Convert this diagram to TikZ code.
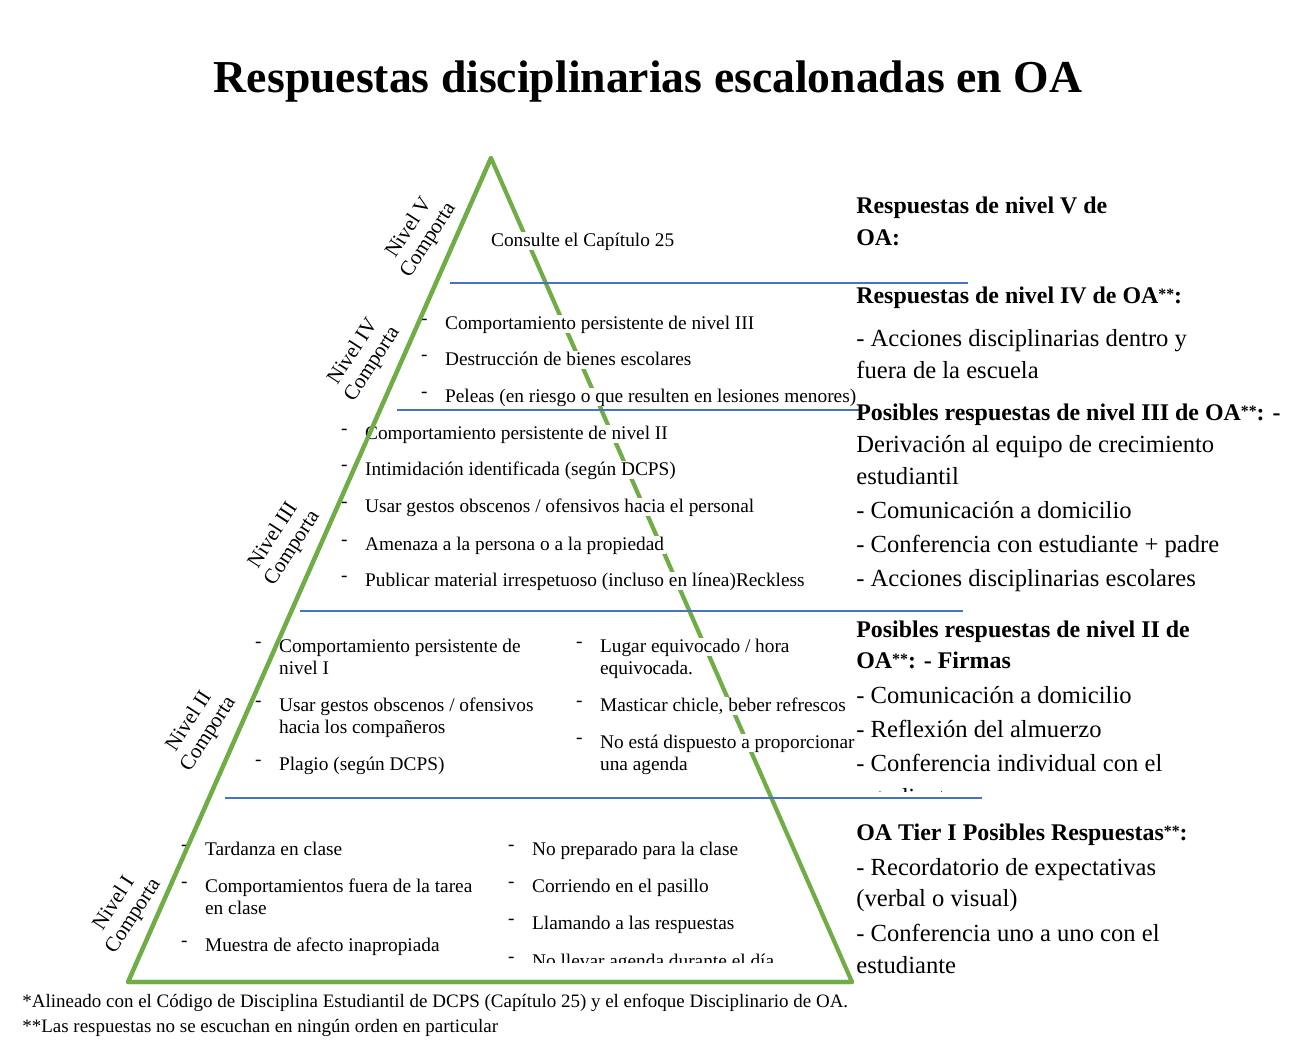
\documentclass[tikz,border=0pt]{standalone}
\usepackage{fontspec}
\setmainfont{Liberation Serif}
\definecolor{pyrgreen}{RGB}{112,173,71}
\definecolor{lvlblue}{RGB}{68,114,196}

\tikzset{
  itm/.style={anchor=west,inner sep=1pt,fill=white,text height=1.5ex,text depth=.25ex,
    font=\fontsize{11}{13}\selectfont},
  lvl/.style={align=center,rotate=57,font=\fontsize{12}{13}\selectfont},
  rtxt/.style={anchor=west,inner sep=0pt,text height=1.5ex,text depth=.25ex,
    font=\fontsize{14}{16}\selectfont},
  rhead/.style={rtxt,font=\fontsize{13.6}{16}\selectfont\bfseries},
  note/.style={anchor=west,inner sep=0pt,font=\fontsize{10.8}{12}\selectfont},
  sep/.style={lvlblue,line width=0.8pt},
  edge/.style={pyrgreen,line width=2.4pt,line cap=round,line join=round}
}
\newcommand{\dsh}{\llap{\raisebox{.55ex}{-}\hspace{10pt}}}
\newcommand{\dast}{\raisebox{.35ex}{\fontsize{9}{9}\selectfont **}}

\begin{document}
\begin{tikzpicture}[x=0.02cm,y=-0.02cm]
\useasboundingbox (0,0) rectangle (1292,1055);

% titulo
\node[font=\fontsize{26}{30}\selectfont\bfseries] (title) at (648,82) {Respuestas disciplinarias escalonadas en OA};

% piramide
\coordinate (apex) at (491,158);
\coordinate (bl) at (128,982);
\coordinate (br) at (852,982);
\draw[edge] (bl) -- (apex) -- (br) -- cycle;

% nivel V
\node[itm] (c5) at (489,241) {Consulte el Capítulo 25};

% nivel IV
\node[itm] (c4a) at (443,324) {\dsh Comportamiento persistente de nivel III};
\node[itm] (c4b) at (443,360) {\dsh Destrucción de bienes escolares};
\node[itm] (c4c) at (443,397) {\dsh Peleas (en riesgo o que resulten en lesiones menores)};

% nivel III
\node[itm] (c3a) at (363,434) {\dsh Comportamiento persistente de nivel II};
\node[itm] (c3b) at (363,470) {\dsh Intimidación identificada (según DCPS)};
\node[itm] (c3c) at (363,507) {\dsh Usar gestos obscenos / ofensivos hacia el personal};
\node[itm] (c3d) at (363,545) {\dsh Amenaza a la persona o a la propiedad};
\node[itm] (c3e) at (363,581) {\dsh Publicar material irrespetuoso (incluso en línea)Reckless};

% nivel II
\node[itm] (c2a) at (277,647) {\dsh Comportamiento persistente de};
\node[itm] (c2a2) at (277,669) {nivel I};
\node[itm] (c2b) at (277,706) {\dsh Usar gestos obscenos / ofensivos};
\node[itm] (c2b2) at (277,728) {hacia los compañeros};
\node[itm] (c2c) at (277,765) {\dsh Plagio (según DCPS)};
\node[itm] (c2d) at (598,647) {\dsh Lugar equivocado / hora};
\node[itm] (c2d2) at (598,669) {equivocada.};
\node[itm] (c2e) at (598,706) {\dsh Masticar chicle, beber refrescos};
\node[itm] (c2f) at (598,743) {\dsh No está dispuesto a proporcionar};
\node[itm] (c2f2) at (598,765) {una agenda};

% nivel I
\node[itm] (c1a) at (203,850) {\dsh Tardanza en clase};
\node[itm] (c1b) at (203,887) {\dsh Comportamientos fuera de la tarea};
\node[itm] (c1b2) at (203,909) {en clase};
\node[itm] (c1c) at (203,946) {\dsh Muestra de afecto inapropiada};
\node[itm] (c1d) at (530,850) {\dsh No preparado para la clase};
\node[itm] (c1e) at (530,887) {\dsh Corriendo en el pasillo};
\node[itm] (c1f) at (530,924) {\dsh Llamando a las respuestas};
\begin{scope}
  \clip (500,940) rectangle (900,962);
  \node[itm] (c1g) at (530,962) {\dsh No llevar agenda durante el día};
\end{scope}

% lado izquierdo y base encima del texto
\draw[edge] (apex) -- (bl) -- (br);

% separadores
\draw[sep] (450,283) -- (968,283);
\draw[sep] (397,410) -- (860,410);
\draw[sep] (300,611) -- (963,611);
\draw[sep] (225,798) -- (982,798);

% etiquetas de nivel
\node[lvl] (l5) at (419,234) {Nivel V\\Comporta};
\node[lvl] (l4) at (363,358) {Nivel IV\\Comporta};
\node[lvl] (l3) at (283,542) {Nivel III\\Comporta};
\node[lvl] (l2) at (199,728) {Nivel II\\Comporta};
\node[lvl] (l1) at (124,910) {Nivel I\\Comporta};

% respuestas
\node[rhead] (r5) at (856,208) {Respuestas de nivel V de};
\node[rhead] (r5b) at (856,240) {OA:};
\node[rhead] (r4) at (856,298) {Respuestas de nivel IV de OA\dast:};
\node[rtxt] (r4a) at (856,341) {- Acciones disciplinarias dentro y};
\node[rtxt] (r4b) at (856,373) {fuera de la escuela};
\node[rhead] (r3) at (856,415) {Posibles respuestas de nivel III de OA\dast: -};
\node[rtxt] (r3a) at (856,447) {Derivación al equipo de crecimiento};
\node[rtxt] (r3b) at (856,479) {estudiantil};
\node[rtxt] (r3c) at (856,513) {- Comunicación a domicilio};
\node[rtxt] (r3d) at (856,547) {- Conferencia con estudiante + padre};
\node[rtxt] (r3e) at (856,581) {- Acciones disciplinarias escolares};
\node[rhead] (r2) at (856,632) {Posibles respuestas de nivel II de};
\node[rhead] (r2b) at (856,663) {OA\dast: - Firmas};
\node[rtxt] (r2c) at (856,698) {- Comunicación a domicilio};
\node[rtxt] (r2d) at (856,732) {- Reflexión del almuerzo};
\node[rtxt] (r2e) at (856,766) {- Conferencia individual con el};
\begin{scope}
  \clip (850,780) rectangle (1100,791);
  \node[rtxt] (r2f) at (856,800) {estudiante};
\end{scope}
\node[rhead] (r1) at (856,835) {OA Tier I Posibles Respuestas\dast:};
\node[rtxt] (r1a) at (856,870) {- Recordatorio de expectativas};
\node[rtxt] (r1b) at (856,901) {(verbal o visual)};
\node[rtxt] (r1c) at (856,936) {- Conferencia uno a uno con el};
\node[rtxt] (r1d) at (856,968) {estudiante};

% notas
\node[note] (n1) at (22,1003) {*Alineado con el Código de Disciplina Estudiantil de DCPS (Capítulo 25) y el enfoque Disciplinario de OA.};
\node[note] (n2) at (22,1028) {**Las respuestas no se escuchan en ningún orden en particular};

\end{tikzpicture}
\end{document}
